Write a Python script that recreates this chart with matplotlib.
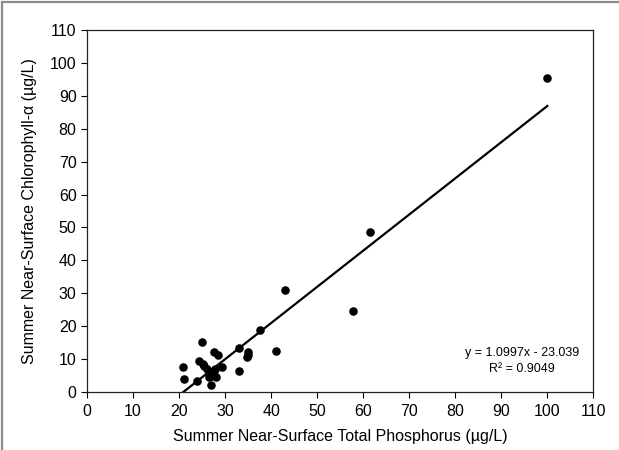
import matplotlib
matplotlib.use("Agg")
import matplotlib.pyplot as plt
from matplotlib.patches import Rectangle
import numpy as np

plt.rcParams['font.family'] = ['Liberation Sans', 'DejaVu Sans']

# summer near-surface total phosphorus (ug/L) vs chlorophyll-a (ug/L)
tp = [100.0, 61.5, 57.7, 43.0, 37.5, 41.0, 33.0, 35.0, 34.7, 35.0, 33.0,
      25.0, 27.6, 28.4, 20.8, 21.0, 23.8, 24.3, 27.0, 29.3, 28.0,
      25.5, 26.0, 26.5, 27.0, 27.5, 26.5, 27.8, 25.2]
chl = [95.5, 48.6, 24.5, 31.0, 18.8, 12.5, 13.3, 12.2, 10.5, 11.2, 6.5,
       15.3, 12.0, 11.3, 7.6, 4.0, 3.2, 9.3, 2.2, 7.5, 4.6,
       8.0, 7.0, 6.0, 5.0, 6.5, 4.5, 7.0, 8.5]

# linear trendline reported on the chart
slope = 1.0997
intercept = -23.039
r2 = 0.9049

xticks = list(range(0, 111, 10))
yticks = list(range(0, 111, 10))

fig = plt.figure(figsize=(6.19, 4.5), dpi=100)
ax = fig.add_axes([0.1405, 0.129, 0.818, 0.804])

ax.scatter(tp, chl, s=38, color='black', zorder=3, linewidths=0)

xfit = np.array([min(tp), max(tp)])
ax.plot(xfit, slope * xfit + intercept, color='black', lw=1.6, zorder=2)

ax.set_xlim(0, 110)
ax.set_ylim(0, 110)
ax.set_xticks(xticks)
ax.set_yticks(yticks)
ax.tick_params(direction='out', length=4, width=0.8, labelsize=11.5, colors='black')
ax.tick_params(axis='x', pad=5)
for s in ax.spines.values():
  s.set_linewidth(0.9)
  s.set_color('#222222')

ax.set_xlabel('Summer Near-Surface Total Phosphorus (µg/L)', fontsize=11.5, labelpad=7)
ax.set_ylabel('Summer Near-Surface Chlorophyll-α (µg/L)', fontsize=11.5, labelpad=9)

eq = 'y = {:.4f}x - {:.3f}\nR² = {:.4f}'.format(slope, -intercept, r2)
ax.text(94.5, 13.8, eq, ha='center', va='top', fontsize=9, linespacing=1.45)

# grey outer chart border (only top/left visible in crop)
fig.patches.append(Rectangle((0.0035, -0.05), 1.2, 1.0456, transform=fig.transFigure,
                             fill=False, edgecolor='#8c8c8c', lw=1.6, clip_on=False))

fig.savefig('out.png', dpi=100)
